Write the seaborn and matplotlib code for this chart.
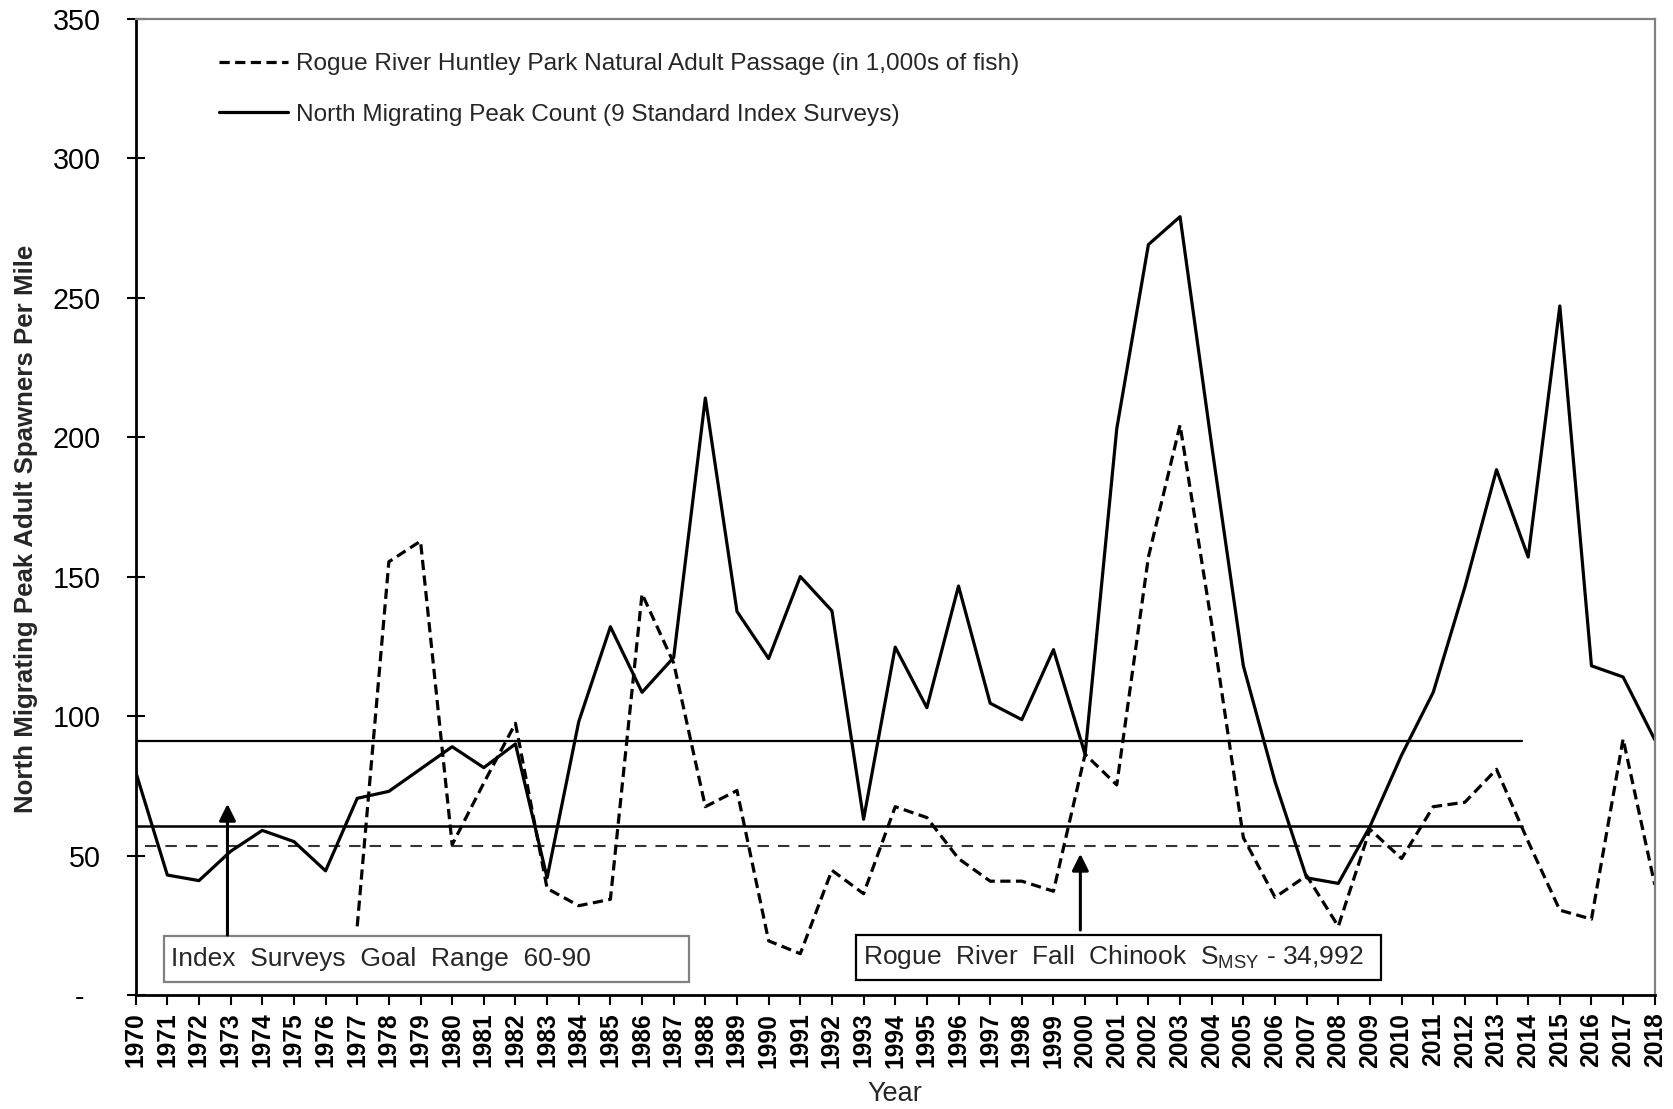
import numpy as np
import pandas as pd
import matplotlib
matplotlib.use("Agg")
import matplotlib.pyplot as plt
import seaborn as sns
from matplotlib.patches import Rectangle

# ---------------- data ----------------
years = list(range(1970, 2019))

peak_count = [80, 43, 41, 51.5, 59, 55, 44.5, 70.5, 73, 81,
              89, 81.5, 90, 42, 98, 132, 108.5, 121, 214, 137.5,
              120.6, 150, 137.7, 63, 124.7, 103, 146.6, 104.6, 98.7, 123.8,
              86.3, 203, 269, 279, 197, 118, 76.5, 42, 40, 60.4,
              86, 108.5, 146.2, 188.3, 157, 247, 118, 114, 91.5]

huntley_passage = [np.nan] * 7 + [24.6, 155.3, 162.7,
                   53.9, 76, 97.4, 38.2, 32, 34.3, 143.8, 119, 67.5, 73.3,
                   19.4, 14.8, 44.7, 36.3, 67.5, 63.6, 48.9, 40.8, 40.8, 37.2,
                   86.3, 75.3, 157, 204.3, 133, 56.4, 35, 42.8, 24.6, 59.4,
                   48.9, 67.5, 69.1, 80.9, 55, 30.4, 27.2, 91.8, 39.5]

goal_upper = 91
goal_lower = 60.7
smsy_level = 53.5
ref_start = 1970
ref_end = 2013.8

y_ticks = [0, 50, 100, 150, 200, 250, 300, 350]
y_tick_labels = ["-  ", "50", "100", "150", "200", "250", "300", "350"]
x_tick_labels = [str(y) for y in years]

label_huntley = "Rogue River Huntley Park Natural Adult Passage (in 1,000s of fish)"
label_peak = "North Migrating Peak Count (9 Standard Index Surveys)"

df = pd.DataFrame({"Year": years, "peak": peak_count, "huntley": huntley_passage})

# ---------------- style ----------------
sns.set_theme(style="white")
plt.rcParams["font.family"] = ["Liberation Sans", "DejaVu Sans"]
plt.rcParams["mathtext.fontset"] = "custom"
plt.rcParams["mathtext.rm"] = "Liberation Sans"
plt.rcParams["mathtext.it"] = "Liberation Sans:italic"
plt.rcParams["mathtext.bf"] = "Liberation Sans:bold"

fig = plt.figure(figsize=(16.73, 11.09), dpi=100, facecolor="white")
ax = fig.add_axes([0.0811, 0.1028, 0.908, 0.8804])
ax.set_facecolor("white")

sns.lineplot(data=df, x="Year", y="huntley", ax=ax, color="black", lw=2.3,
             linestyle=(0, (3.2, 1.7)), label=label_huntley)
sns.lineplot(data=df, x="Year", y="peak", ax=ax, color="black", lw=2.3,
             label=label_peak)
h_dash, h_solid = ax.lines[0], ax.lines[1]

# reference lines
ax.plot([ref_start, ref_end], [goal_upper, goal_upper], color="black", lw=1.6, zorder=1)
ax.plot([ref_start - 0.1, ref_end], [goal_lower, goal_lower], color="black", lw=1.8, zorder=1)
ax.plot([ref_start + 0.3, ref_end], [smsy_level, smsy_level], color="#333333", lw=1.5,
        linestyle=(0, (5.5, 4.3)), zorder=1)

# axes
ax.set_xlim(1970, 2018)
ax.set_ylim(0, 350)
ax.set_xticks(years)
ax.set_xticklabels(x_tick_labels, rotation=90, fontsize=17.7, fontweight="bold")
ax.set_yticks(y_ticks)
ax.set_yticklabels(y_tick_labels, fontsize=20.7)
ax.tick_params(axis="y", direction="inout", length=13, width=1.5, pad=18.5, left=True,
               colors="black")
ax.tick_params(axis="x", direction="out", length=7.2, width=1.5, pad=5.5, bottom=True,
               colors="black")

for s in ["left", "bottom"]:
    ax.spines[s].set_color("black")
    ax.spines[s].set_linewidth(2.0)
for s in ["top", "right"]:
    ax.spines[s].set_color("#808080")
    ax.spines[s].set_linewidth(1.6)
ax.grid(False)

ax.set_ylabel("North Migrating Peak Adult Spawners Per Mile", fontsize=18.6,
              fontweight="bold")
ax.yaxis.set_label_coords(-0.0644, 0.4773)
ax.set_xlabel("Year", fontsize=19.5, va="center")
ax.xaxis.set_label_coords(0.5, -0.1014)

# legend
ax.legend(handles=[h_dash, h_solid], labels=[label_huntley, label_peak],
          loc="upper left", bbox_to_anchor=(0.0546, 0.9647), frameon=False,
          fontsize=17.6, handlelength=2.82, handletextpad=0.35, labelspacing=1.17,
          borderpad=0, borderaxespad=0)

# annotation boxes
ax.add_patch(Rectangle((0.01883, 0.01331), 0.3451, 0.0471, transform=ax.transAxes,
                       facecolor="white", edgecolor="#808080", lw=1.6, zorder=5))
ax.text(0.0235, 0.0369, "Index  Surveys  Goal  Range  60-90", transform=ax.transAxes,
        fontsize=19, ha="left", va="center", zorder=6)

ax.add_patch(Rectangle((0.474, 0.01536), 0.3456, 0.0463, transform=ax.transAxes,
                       facecolor="white", edgecolor="black", lw=1.6, zorder=5))
ax.text(0.479, 0.0385, r"Rogue  River  Fall  Chinook  S$_{\mathregular{MSY}}$ - 34,992",
        transform=ax.transAxes, fontsize=19, ha="left", va="center", zorder=6)

arrow_style = dict(arrowstyle="-|>,head_length=0.5,head_width=0.25", color="black",
                   lw=2.2, shrinkA=0, shrinkB=0, mutation_scale=20)
ax.annotate("", xy=(1972.9, 68.5), xytext=(1972.9, 21.5), arrowprops=arrow_style, zorder=7)
ax.annotate("", xy=(1999.85, 50.6), xytext=(1999.85, 23.3), arrowprops=arrow_style, zorder=7)

fig.savefig("out.png", dpi=100, facecolor="white")
